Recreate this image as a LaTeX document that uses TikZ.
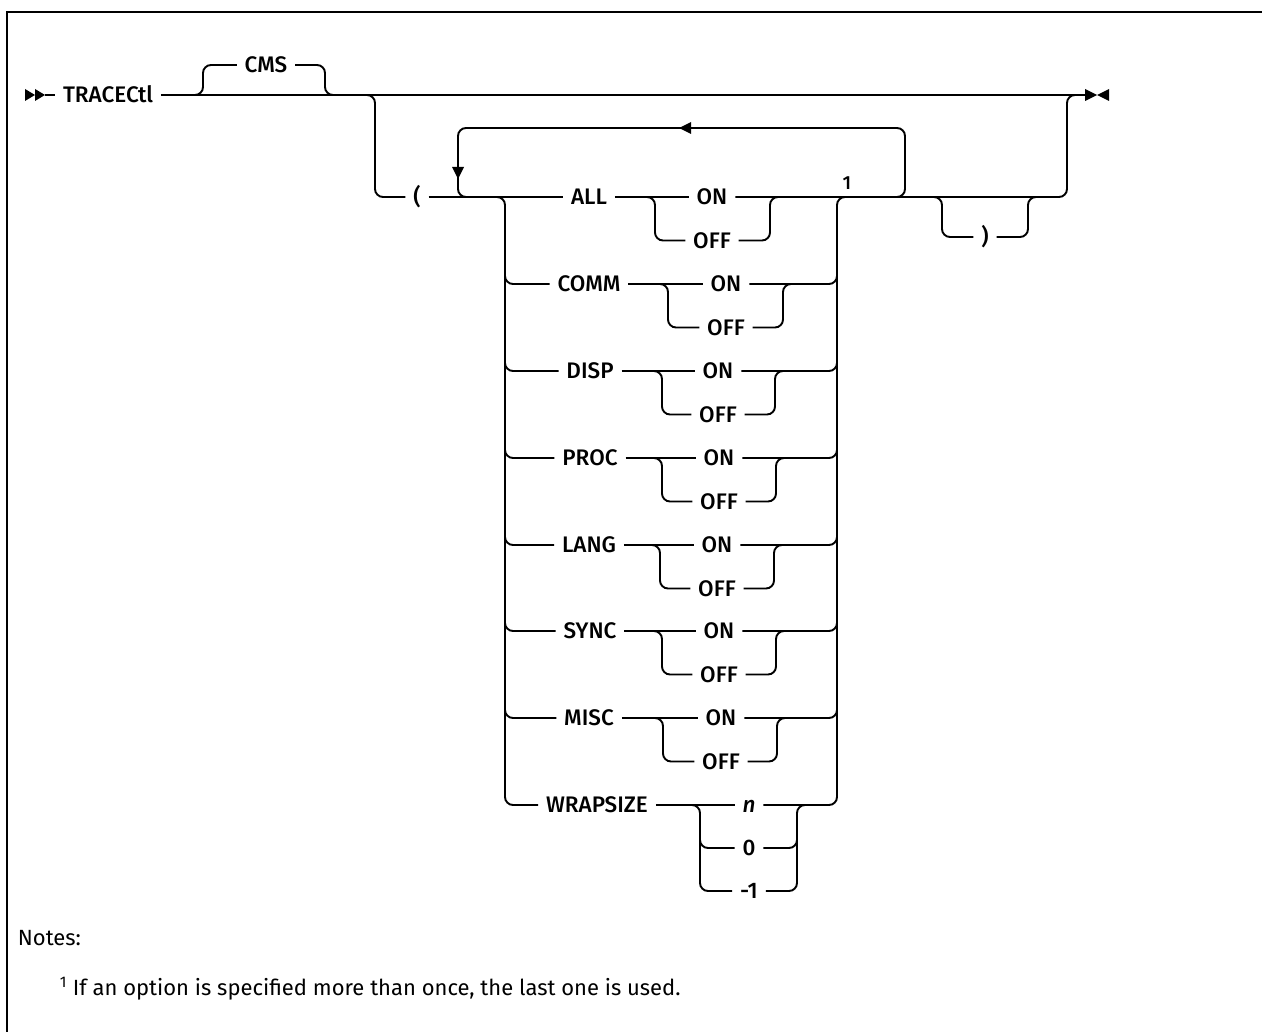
\documentclass[tikz,border=0pt]{standalone}
\usepackage{fontspec}
\setmainfont{Fira Sans}
\newfontfamily\medfont{Fira Sans Medium}
\begin{document}
\begin{tikzpicture}[x=1pt,y=-1pt,line width=1.9pt,
  rc/.style={rounded corners=8pt},
  lbl/.style={font=\medfont\fontsize{22.5}{26}\selectfont, inner xsep=7pt, inner ysep=0pt, text height=15.5pt, text depth=0pt},
  note/.style={font=\fontsize{22}{26}\selectfont, inner sep=0pt, anchor=base west}]
\useasboundingbox (0,0) rectangle (1262,1032);
% frame
\draw[line width=2.4pt] (7,1032) -- (7,12) -- (1262,12);
% start and end markers
\fill (25,89) -- (35,95) -- (25,101) -- cycle;
\fill (35,89) -- (45,95) -- (35,101) -- cycle;
\coordinate (start) at (45,95);
\coordinate (end) at (1085,95);
\fill (1085,89) -- (1097,95) -- (1085,101) -- cycle;
\fill (1109,89) -- (1097,95) -- (1109,101) -- cycle;
% main labels
\node[lbl] (tr) at (108,95) {TRACECtl};
\node[lbl] (cms) at (266,65) {CMS};
\node[lbl] (lp) at (417,197) {(};
\node[lbl] (rp) at (985,237) {)};
\node[font=\medfont\fontsize{19}{21}\selectfont, inner sep=0pt] (fn1) at (847,183) {1};
% main line
\draw (start) -- (tr.west);
\draw (tr.east) -- (end);
% default CMS
\draw[rc] (190,95) -- (203,95) -- (203,65) -- (cms.west);
\draw[rc] (cms.east) -- (325,65) -- (325,95) -- (338,95);
% option branch
\draw[rc] (365,95) -- (375,95) -- (375,197) -- (lp.west);
% repeat loop
\draw[rc] (885,197) -- (905,197) -- (905,128) -- (458,128) -- (458,197) -- (478,197);
\fill (679,128) -- (691,122) -- (691,134) -- cycle;
\fill (458,179) -- (452,167) -- (464,167) -- cycle;
% option rows
\foreach \nm/\y/\xn/\xl/\xo/\xr in {ALL/197/589/655/712/770, COMM/284/589/668/726/783, DISP/371/590/662/718/775, PROC/458/590/662/719/776, LANG/545/589/660/717/774, SYNC/631/590/662/719/776, MISC/718/589/663/721/777}{
  \node[lbl] (n-\nm) at (\xn,\y) {\nm};
  \node[lbl] (on-\nm) at (\xo,\y) {ON};
  \node[lbl] (off-\nm) at (\xo,\y+43.5) {OFF};
  \draw (n-\nm.east) -- (on-\nm.west);
  \draw[rc] (\xl-8,\y) -- (\xl,\y) -- (\xl,\y+43.5) -- (off-\nm.west);
  \draw[rc] (off-\nm.east) -- (\xr,\y+43.5) -- (\xr,\y) -- (\xr+8,\y);
}
\draw (lp.east) -- (n-ALL.west);
\draw[rc] (on-ALL.east) -- (1067,197) -- (1067,95) -- (end);
\foreach \nm/\y in {COMM/284, DISP/371, PROC/458, LANG/545, SYNC/631, MISC/718}{
  \draw[rc] (505,\y-20) -- (505,\y) -- (n-\nm.west);
  \draw[rc] (on-\nm.east) -- (837,\y) -- (837,\y-20);
}
% WRAPSIZE row
\node[lbl] (n-WRAP) at (597,805) {WRAPSIZE};
\node[lbl] (vn) at (749,805) {\itshape n};
\node[lbl] (v0) at (749,848) {0};
\node[lbl] (vm) at (749,891) {-1};
\draw (n-WRAP.east) -- (vn.west);
\draw[rc] (692,805) -- (700,805) -- (700,891) -- (vm.west);
\draw[rc] (700,828) -- (700,848) -- (v0.west);
\draw[rc] (vm.east) -- (797,891) -- (797,805) -- (805,805);
\draw[rc] (v0.east) -- (797,848) -- (797,828);
% columns
\draw[rc] (495,197) -- (505,197) -- (505,805) -- (n-WRAP.west);
\draw[rc] (vn.east) -- (837,805) -- (837,197) -- (850,197);
% closing paren
\draw[rc] (930,197) -- (942,197) -- (942,237) -- (rp.west);
\draw[rc] (rp.east) -- (1028,237) -- (1028,197) -- (1040,197);
% notes
\node[note] (notes) at (17,945) {Notes:};
\node[note] (fn) at (59,995) {\textsuperscript{1} If an option is specified more than once, the last one is used.};
\end{tikzpicture}
\end{document}
